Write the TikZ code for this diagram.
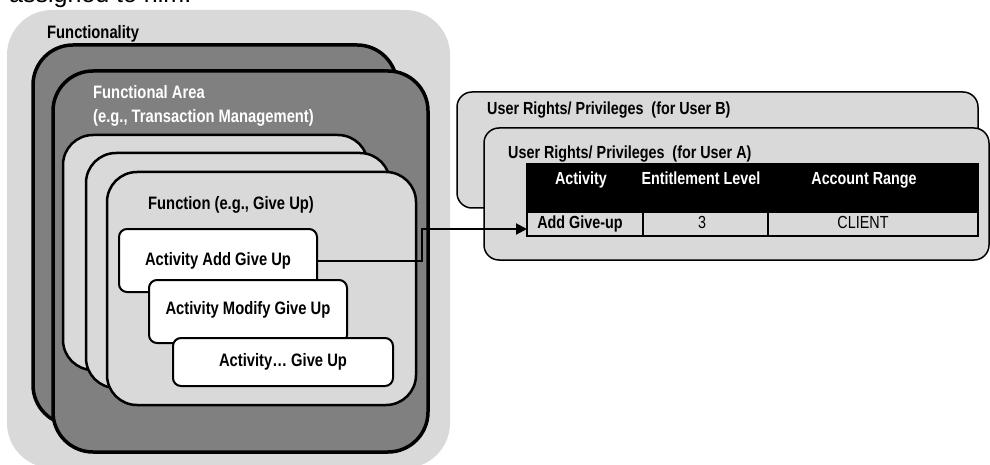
\documentclass[tikz,border=0pt]{standalone}
\usepackage{fontspec}
\setmainfont{Liberation Sans}[FakeStretch=0.82]
\newfontfamily\plainfont{Liberation Sans}
\usetikzlibrary{arrows.meta}
\definecolor{lg}{HTML}{D9D9D9}
\definecolor{dg}{HTML}{808080}
\tikzset{
  box/.style={rectangle, anchor=north west, inner sep=0pt, outer sep=0pt},
  darkbox/.style={box, fill=dg, draw=black, line width=3.5pt, rounded corners=40pt},
  lightbox/.style={box, fill=lg, draw=black, line width=2.5pt, rounded corners=30pt},
  whitebox/.style={box, fill=white, draw=black, line width=2pt, rounded corners=8pt},
  userbox/.style={box, fill=lg, draw=black, line width=1.5pt, rounded corners=15pt},
  cell/.style={box, fill=lg, draw=black, line width=1.5pt},
  lbl/.style={inner sep=0pt, font=\bfseries\fontsize{18}{20}\selectfont},
  rlbl/.style={inner sep=0pt, font=\bfseries\fontsize{17.5}{20}\selectfont},
  rtxt/.style={inner sep=0pt, font=\fontsize{17.5}{20}\selectfont},
  conn/.style={line width=2pt, -{Triangle[length=11pt,width=11pt]}},
}
\begin{document}
\begin{tikzpicture}[x=1pt,y=-1pt]
\useasboundingbox (0,0) rectangle (990,465);
\node[inner sep=0pt, anchor=base west, font=\plainfont\fontsize{25}{28}\selectfont] (intro) at (9,3) {assigned to him.};
% left structure
\node[box, fill=lg, rounded corners=45pt, minimum width=443pt, minimum height=458pt] (functionality) at (7,10) {};
\node[darkbox, minimum width=364pt, minimum height=380pt] (areaback) at (33,45) {};
\node[darkbox, minimum width=375pt, minimum height=381pt] (area) at (53,71) {};
\node[lightbox, minimum width=305pt, minimum height=235pt] (funca) at (63,135) {};
\node[lightbox, minimum width=304pt, minimum height=235pt] (funcb) at (86,153) {};
\node[lightbox, minimum width=309pt, minimum height=233pt] (funcc) at (107,172) {};
\node[whitebox, minimum width=198pt, minimum height=63pt] (add) at (119,229) {};
\node[whitebox, minimum width=198pt, minimum height=63pt] (modify) at (149,280) {};
\node[whitebox, minimum width=220pt, minimum height=48pt] (dots) at (173,338) {};
\node[lbl, anchor=base west] (tfunctionality) at (47,39) {Functionality};
\node[lbl, anchor=base west, text=white] (tarea1) at (93,99) {Functional Area};
\node[lbl, anchor=base west, text=white] (tarea2) at (93,123) {(e.g., Transaction Management)};
\node[lbl, anchor=base west] (tfunc) at (148,209) {Function (e.g., Give Up)};
\node[lbl] (tadd) at (add.center) {Activity Add Give Up};
\node[lbl] (tmodify) at ([yshift=2pt]modify.center) {Activity Modify Give Up};
\node[lbl] (tdots) at (dots.center) {Activity\dots{} Give Up};
% right structure
\node[userbox, minimum width=521pt, minimum height=116pt] (userb) at (457,92) {};
\node[userbox, minimum width=505pt, minimum height=132pt] (usera) at (484,128) {};
\node[rlbl, anchor=base west] (tuserb) at (487,115) {User Rights/ Privileges\ \ (for User B)};
\node[rlbl, anchor=base west] (tusera) at (508,159) {User Rights/ Privileges\ \ (for User A)};
\node[box, fill=black, minimum width=451pt, minimum height=48pt] (thead) at (527,164) {};
\node[cell, minimum width=116pt, minimum height=24pt] (c1) at (527,212) {};
\node[cell, minimum width=125pt, minimum height=24pt] (c2) at (643,212) {};
\node[cell, minimum width=210pt, minimum height=24pt] (c3) at (768,212) {};
\draw[line width=2pt] (thead.north west) rectangle (c3.south east);
\node[rlbl, anchor=base, text=white] (h1) at (581,185) {Activity};
\node[rlbl, anchor=base, text=white] (h2) at (701,185) {Entitlement Level};
\node[rlbl, anchor=base, text=white] (h3) at (864,185) {Account Range};
\node[rlbl, anchor=base] (r1) at (580,228) {Add Give-up};
\node[rtxt, anchor=base] (r2) at (702,228) {3};
\node[rtxt, anchor=base] (r3) at (863,228) {CLIENT};
% connector
\coordinate (bend) at (422,0);
\coordinate (tip) at (527,229);
\draw[conn] (add.east) -- (add.east -| bend) |- (tip);
\end{tikzpicture}
\end{document}
